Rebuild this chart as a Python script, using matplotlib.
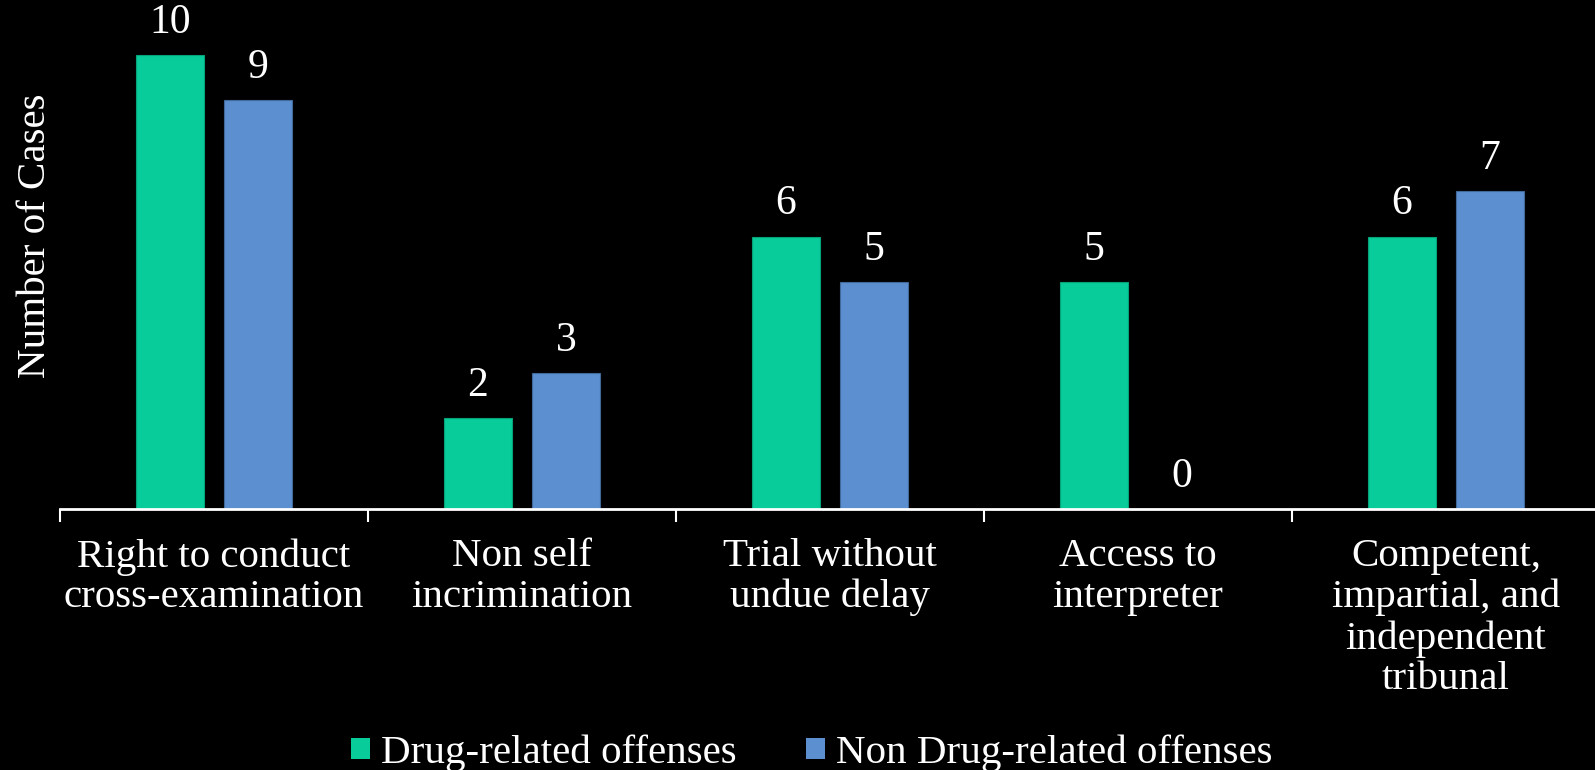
import matplotlib
matplotlib.use("Agg")
import matplotlib.pyplot as plt
import numpy as np
from matplotlib.patches import Patch

# Data
categories = [
    "Right to conduct\ncross-examination",
    "Non self\nincrimination",
    "Trial without\nundue delay",
    "Access to\ninterpreter",
    "Competent,\nimpartial, and\nindependent\ntribunal",
]
drug_related = [10, 2, 6, 5, 6]
non_drug_related = [9, 3, 5, 0, 7]
series_names = ["Drug-related offenses", "Non Drug-related offenses"]
series_colors = ["#08CC9A", "#5B8FD0"]
edge_colors = ["#06A37B", "#41699A"]

FONT = "Liberation Serif"
plt.rcParams["font.family"] = [FONT, "DejaVu Serif"]
FS = 29.5

W, H = 1595, 770
fig = plt.figure(figsize=(W / 100, H / 100), dpi=100, facecolor="black")
ax = fig.add_axes([60 / W, 261 / H, 1535 / W, 509 / H], facecolor="black")

x = np.arange(len(categories))
bw = 0.222
off = 0.143
for vals, dx, c, ec in [(drug_related, -off, series_colors[0], edge_colors[0]),
                        (non_drug_related, off, series_colors[1], edge_colors[1])]:
    bars = ax.bar(x + dx, vals, width=bw, color=c, edgecolor=ec, linewidth=0.8, zorder=2)
    for b, v in zip(bars, vals):
        ax.annotate(str(v), (b.get_x() + b.get_width() / 2, v),
                    xytext=(0, 16), textcoords="offset points",
                    ha="center", va="baseline", color="white", fontsize=30)

ax.set_xlim(-0.5, -0.5 + 1535 / 308)
ax.set_ylim(0, 509 / 45.4)

for s in ["top", "right", "left"]:
    ax.spines[s].set_visible(False)
ax.spines["bottom"].set_color("white")
ax.spines["bottom"].set_linewidth(2)
ax.set_yticks([])

ax.set_xticks(x)
ax.set_xticklabels(categories, color="white", fontsize=FS, linespacing=1.13)
ax.tick_params(axis="x", which="major", length=0, pad=21)
ax.set_xticks(np.arange(len(categories)) - 0.5, minor=True)
ax.tick_params(axis="x", which="minor", length=9, width=1.5, color="white", direction="out")

fig.text(36 / W, 1 - 236 / H, "Number of Cases", rotation=90, color="white",
         fontsize=FS, ha="center", va="center")

handles = [Patch(facecolor=c, edgecolor="none") for c in series_colors]
leg = fig.legend(handles, series_names, loc="center", bbox_to_anchor=(812 / W, 17 / H),
                 ncol=2, frameon=False, fontsize=FS, handlelength=0.45, handleheight=0.42,
                 handletextpad=0.28, columnspacing=1.7, labelcolor="white",
                 borderpad=0, borderaxespad=0)

fig.savefig("out.png", dpi=100, facecolor="black")
